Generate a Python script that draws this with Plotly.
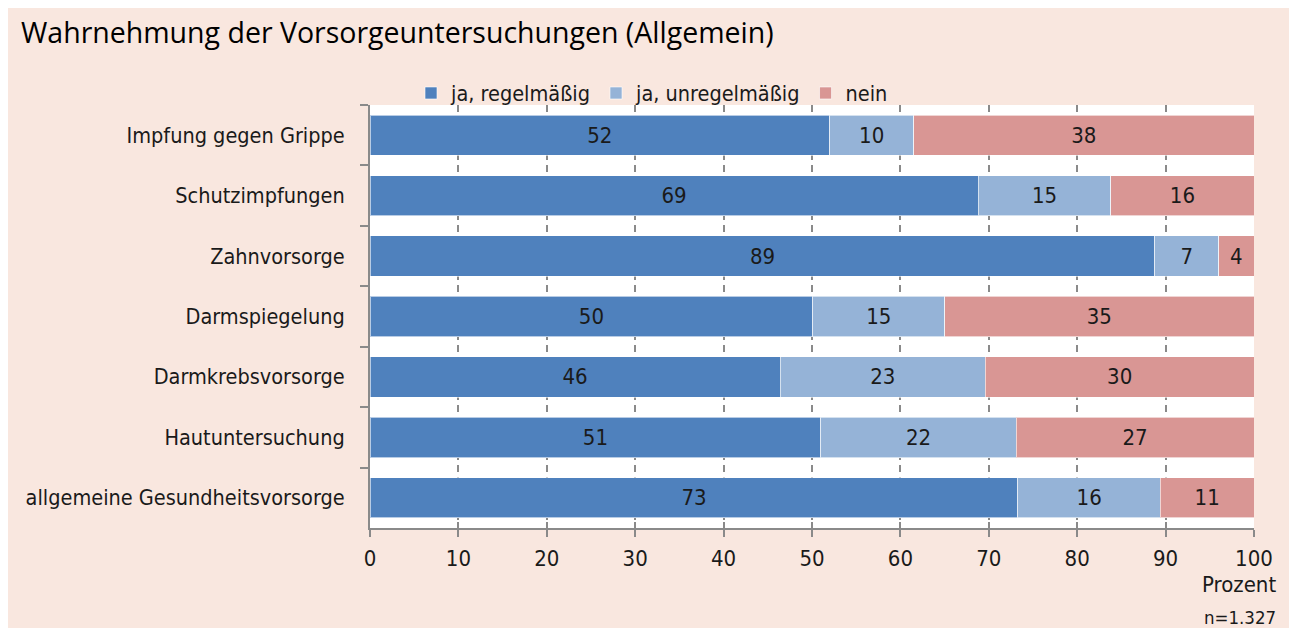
import plotly.graph_objects as go

categories = ["Impfung gegen Grippe", "Schutzimpfungen", "Zahnvorsorge", "Darmspiegelung",
              "Darmkrebsvorsorge", "Hautuntersuchung", "allgemeine Gesundheitsvorsorge"]
regelmaessig = [52.0, 68.8, 88.8, 50.1, 46.4, 51.0, 73.3]
unregelmaessig = [9.5, 15.0, 7.2, 14.9, 23.2, 22.1, 16.1]
nein = [38.5, 16.2, 4.0, 35.0, 30.4, 26.9, 10.6]
labels_regelmaessig = ["52", "69", "89", "50", "46", "51", "73"]
labels_unregelmaessig = ["10", "15", "7", "15", "23", "22", "16"]
labels_nein = ["38", "16", "4", "35", "30", "27", "11"]
series_names = ["ja, regelmäßig", "ja, unregelmäßig", "nein"]
colors = ["#4F81BD", "#95B3D7", "#D99694"]
x_ticks = [0, 10, 20, 30, 40, 50, 60, 70, 80, 90, 100]

COND = "Liberation Sans Narrow, DejaVu Sans Condensed, Roboto Condensed, Arial Narrow, Roboto, sans-serif"
TITLEF = "Open Sans, Noto Sans, sans-serif"
BG = "#F9E7DF"

W, H = 1281, 620          # page has an 8px body margin
PX0, PX1, PY0, PY1 = 362, 1246, 97, 520   # plot area in figure pixels
PW, PH = PX1 - PX0, PY1 - PY0


def px(x):   # page x -> paper x
    return (x - 8 - PX0) / PW


def py(y):   # page y -> paper y
    return (PY1 - (y - 8)) / PH


fig = go.Figure()
for name, vals, labs, col in zip(series_names,
                                 [regelmaessig, unregelmaessig, nein],
                                 [labels_regelmaessig, labels_unregelmaessig, labels_nein],
                                 colors):
    fig.add_trace(go.Bar(
        y=categories, x=vals, name=name, orientation="h",
        marker=dict(color=col, line=dict(color="rgba(255,255,255,0.6)", width=1)),
        text=labs, textposition="inside", insidetextanchor="middle",
        textangle=0, constraintext="none",
        textfont=dict(family=COND, size=22, color="#1a1a1a"),
        hoverinfo="skip",
    ))

# invisible trace on overlay axis for crossing ticks
fig.add_trace(go.Scatter(x=[0, 100], y=[categories[0], categories[0]], xaxis="x2",
                         mode="markers", marker=dict(opacity=0), showlegend=False, hoverinfo="skip"))

fig.update_layout(
    barmode="stack",
    bargap=1/3,
    width=W, height=H,
    margin=dict(l=PX0, r=W - PX1, t=PY0, b=H - PY1, pad=0, autoexpand=False),
    paper_bgcolor=BG,
    plot_bgcolor="white",
    font=dict(family=COND, color="#1a1a1a"),
    title=dict(text="Wahrnehmung der Vorsorgeuntersuchungen (Allgemein)",
               font=dict(family=TITLEF, size=28.5, color="#000000"),
               xref="container", x=13/W, xanchor="left",
               yref="container", y=1-(33-8)/H, yanchor="middle"),
    legend=dict(orientation="h", x=px(652), xanchor="center",
                y=py(93), yanchor="middle",
                font=dict(family=COND, size=21.5, color="#1a1a1a"),
                bgcolor="rgba(0,0,0,0)", itemwidth=30, traceorder="normal"),
    xaxis=dict(range=[0, 100], tickvals=x_ticks, ticktext=[str(v) for v in x_ticks],
               showgrid=True, gridcolor="#8a8a8a", gridwidth=1.5, griddash="7px,5px",
               showline=True, linecolor="#8a8a8a", linewidth=2,
               ticks="outside", ticklen=7, tickwidth=2, tickcolor="#8a8a8a",
               tickfont=dict(family=COND, size=22, color="#1a1a1a"),
               ticklabelstandoff=3, zeroline=False, fixedrange=True, automargin=False),
    xaxis2=dict(range=[0, 100], overlaying="x", anchor="y", side="bottom",
                tickvals=x_ticks, showticklabels=False, showgrid=False,
                ticks="inside", ticklen=6, tickwidth=2, tickcolor="#8a8a8a",
                showline=False, zeroline=False, automargin=False),
    yaxis=dict(categoryorder="array", categoryarray=categories, autorange="reversed",
               showline=True, linecolor="#8a8a8a", linewidth=2,
               ticks="outside", ticklen=8, tickwidth=2, tickcolor="#8a8a8a",
               tickson="boundaries",
               tickfont=dict(family=COND, size=21.5, color="#1a1a1a"),
               ticklabelstandoff=19, showgrid=False, zeroline=False, automargin=False),
    annotations=[
        dict(text="Prozent", xref="paper", yref="paper", x=px(1278), y=py(584),
             xanchor="right", yanchor="middle", showarrow=False,
             font=dict(family=COND, size=22, color="#1a1a1a")),
        dict(text="n=1.327", xref="paper", yref="paper", x=px(1278), y=py(617),
             xanchor="right", yanchor="middle", showarrow=False,
             font=dict(family=COND, size=18.5, color="#1a1a1a")),
    ],
)

page_bg = ("linear-gradient(#fff,#fff) left top/8px 100% no-repeat, "
           "linear-gradient(#fff,#fff) left top/100% 8px no-repeat, " + BG)
fig.write_html("out.html",
               post_script="document.documentElement.style.overflow='hidden';"
                           "document.body.style.overflow='hidden';"
                           "document.documentElement.style.background='" + page_bg + "';")
